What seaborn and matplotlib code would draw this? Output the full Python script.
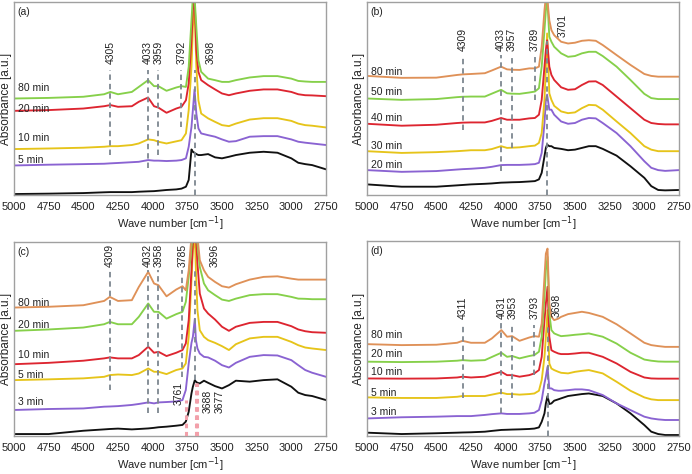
import numpy as np
import pandas as pd
import matplotlib
matplotlib.use('Agg')
import matplotlib.pyplot as plt
import seaborn as sns

sns.set_theme(style='white')
plt.rcParams['font.family'] = ['Liberation Sans', 'DejaVu Sans']
plt.rcParams['font.size'] = 8

# ── Colours ───────────────────────────────────────────────────────────────────

c_black = '#111111'
c_purple = '#8a63d2'
c_yellow = '#e6c41a'
c_red = '#dd2530'
c_green = '#86d04a'
c_orange = '#df9158'
c_dash = '#7d8790'
c_pink = '#f2a0aa'
c_text = '#222222'

# ── Panel (a) ─────────────────────────────────────────────────────────────────

wn_a = [5000, 4750, 4500, 4350, 4305, 4250, 4150, 4100, 4033, 3990, 3959, 3900, 3830, 3792,
        3760, 3740, 3720, 3710, 3698, 3685, 3670, 3650, 3600, 3550, 3500, 3450, 3400, 3300,
        3200, 3100, 3000, 2950, 2900, 2850, 2750]
a_base = [0.5, 0.7, 1.0, 1.4, 1.5, 1.5, 1.5, 1.7, 1.9, 2.0, 2.2, 2.6, 2.9, 3.3,
          4.3, 7.8, 23.6, 22.4, 21.9, 21.2, 20.7, 20.7, 21.2, 19.5, 19.0, 19.8, 20.7, 21.9,
          22.4, 21.9, 19.0, 16.7, 16.0, 15.5, 13.3]
a_5 = [15.3, 15.7, 16.0, 16.2, 16.4, 16.6, 17.0, 17.2, 18.1, 17.8, 17.8, 17.6, 17.8, 18.1,
       19.0, 25.0, 35.3, 44.0, 54.7, 42.2, 34.5, 31.9, 31.0, 30.2, 28.8, 27.6, 27.9, 30.2,
       30.5, 30.5, 28.8, 27.6, 27.1, 26.7, 25.9]
a_10 = [23.8, 24.1, 24.5, 25.0, 25.3, 25.3, 25.9, 26.7, 28.8, 28.4, 27.6, 26.7, 27.8, 28.4,
        31.9, 44.0, 66.4, 87.0, 98.0, 66.4, 49.0, 42.2, 39.7, 37.9, 36.2, 35.7, 37.0, 39.1,
        39.8, 39.8, 38.4, 37.0, 36.2, 35.9, 35.0]
a_20 = [43.6, 44.0, 44.8, 46.0, 46.6, 45.7, 46.0, 48.3, 50.5, 46.0, 45.3, 42.6, 44.8, 45.7,
        49.1, 57.8, 80.2, 95.7, 103.0, 75.0, 63.8, 59.5, 56.9, 54.7, 52.6, 51.7, 52.6, 54.0,
        54.7, 54.7, 53.4, 52.2, 51.7, 51.6, 51.2]
a_80 = [50.0, 50.3, 50.9, 52.2, 53.4, 52.2, 53.4, 56.0, 59.5, 56.4, 56.4, 54.0, 55.7, 56.4,
        56.0, 66.4, 90.5, 103.0, 103.0, 87.0, 69.8, 63.8, 60.3, 59.5, 58.6, 58.6, 59.5, 60.9,
        61.6, 61.6, 60.3, 59.1, 58.8, 58.6, 58.6]
times_a = ['0', '5 min', '10 min', '20 min', '80 min']
label_y_a = [None, 18.1, 29.3, 44.8, 55.2]
peaks_a = [4305, 4033, 3959, 3792, 3698]
peak_lo_a = [20.7, 13.8, 20.7, 35.3, 0.0]
peak_hi_a = [64.7, 64.7, 64.7, 64.7, 64.7]
peak_tx_a = [4305, 4033, 3959, 3792, 3585]
peak_ty_a = [68.0, 68.0, 68.0, 68.0, 68.0]

# ── Panel (b) ─────────────────────────────────────────────────────────────────

wn_b = [5000, 4750, 4500, 4350, 4309, 4250, 4150, 4100, 4033, 3990, 3957, 3900, 3830, 3789,
        3760, 3740, 3720, 3710, 3701, 3685, 3670, 3650, 3600, 3550, 3500, 3450, 3400, 3350,
        3300, 3200, 3100, 3000, 2950, 2900, 2850, 2750]
b_base = [5.5, 4.3, 4.3, 5.0, 5.2, 5.5, 5.8, 6.0, 6.4, 6.5, 6.6, 6.7, 7.0, 7.2,
          8.1, 11.5, 20.1, 24.4, 26.1, 25.3, 25.3, 24.4, 23.9, 23.2, 23.5, 24.4, 25.3, 25.3,
          23.9, 20.4, 14.9, 8.9, 4.6, 2.6, 2.4, 2.6]
b_20 = [12.9, 12.0, 12.4, 13.2, 13.4, 13.6, 14.1, 14.6, 15.5, 15.6, 15.6, 15.6, 15.8, 16.0,
        16.7, 21.8, 37.3, 49.3, 52.0, 44.2, 44.2, 41.6, 38.1, 36.9, 37.3, 39.0, 39.9, 39.7,
        37.3, 32.1, 25.3, 17.5, 14.1, 12.9, 12.5, 12.9]
b_30 = [22.7, 21.8, 22.2, 22.7, 22.9, 23.2, 23.2, 23.8, 25.3, 24.4, 24.5, 24.7, 25.3, 25.6,
        27.0, 32.1, 49.3, 66.5, 83.7, 52.7, 49.3, 46.2, 43.3, 42.4, 42.8, 45.0, 46.7, 46.5,
        44.2, 38.1, 32.1, 25.3, 23.5, 22.7, 22.7, 22.7]
b_40 = [36.9, 35.9, 36.4, 37.3, 37.5, 37.6, 37.6, 38.4, 39.9, 39.0, 39.0, 39.0, 39.7, 39.9,
        41.6, 49.3, 66.5, 75.1, 80.2, 66.5, 62.2, 59.6, 55.8, 54.5, 54.8, 57.0, 58.8, 58.9,
        57.0, 51.0, 45.0, 39.0, 37.3, 36.8, 36.6, 36.6]
b_50 = [50.0, 49.3, 49.7, 50.7, 50.9, 51.0, 51.0, 52.5, 54.5, 52.7, 52.5, 52.4, 53.1, 53.6,
        55.3, 66.5, 85.4, 95.7, 103.0, 82.0, 79.4, 76.8, 73.4, 71.6, 72.0, 73.4, 74.2, 74.2,
        72.0, 66.5, 59.6, 52.4, 50.2, 49.7, 49.7, 49.7]
b_80 = [61.7, 60.7, 60.8, 62.2, 62.5, 62.7, 63.1, 64.5, 66.5, 65.1, 64.9, 64.8, 65.6, 65.6,
        66.5, 76.8, 95.7, 103.0, 103.0, 90.5, 85.4, 82.8, 79.4, 78.5, 78.9, 79.9, 80.2, 79.9,
        77.7, 72.5, 67.4, 62.7, 61.7, 61.3, 61.3, 61.3]
times_b = ['0', '20 min', '30 min', '40 min', '50 min', '80 min']
label_y_b = [None, 15.3, 25.6, 39.9, 53.3, 63.9]
peaks_b = [4309, 4033, 3957, 3789, 3701]
peak_lo_b = [33.8, 12.4, 24.4, 49.3, 0.0]
peak_hi_b = [71.6, 72.5, 72.5, 71.3, 80.0]
peak_tx_b = [4309, 4033, 3957, 3789, 3590]
peak_ty_b = [74.7, 74.7, 74.7, 74.7, 82.0]

# ── Panel (c) ─────────────────────────────────────────────────────────────────

wn_c = [5000, 4750, 4500, 4350, 4309, 4250, 4150, 4100, 4032, 3990, 3958, 3900, 3830, 3785,
        3761, 3740, 3720, 3710, 3696, 3688, 3677, 3660, 3630, 3600, 3550, 3500, 3450, 3400,
        3300, 3200, 3100, 3000, 2950, 2900, 2850, 2750]
c_base = [1.0, 1.0, 2.7, 3.4, 3.6, 3.8, 3.4, 3.6, 3.9, 4.2, 4.5, 4.8, 5.3, 5.7,
          7.4, 12.5, 22.0, 25.4, 28.8, 28.0, 27.4, 27.1, 28.5, 27.4, 25.7, 24.5, 26.2, 28.5,
          28.0, 28.8, 29.2, 25.4, 22.3, 21.1, 20.6, 18.5]
c_3 = [13.4, 13.9, 14.2, 15.1, 15.2, 15.4, 16.0, 16.5, 17.3, 16.8, 17.3, 17.5, 17.8, 18.5,
       23.7, 37.4, 48.0, 51.1, 60.4, 49.4, 45.1, 42.5, 40.8, 40.5, 38.8, 36.5, 35.3, 37.7,
       40.8, 41.7, 41.5, 39.1, 36.5, 34.0, 32.6, 30.5]
c_5 = [28.8, 29.2, 29.7, 30.5, 31.4, 31.7, 31.4, 32.2, 34.8, 33.1, 33.1, 31.9, 34.0, 34.8,
       37.4, 51.1, 80.3, 95.7, 103.0, 85.4, 64.8, 54.5, 51.1, 49.4, 48.0, 46.3, 44.3, 47.3,
       50.3, 51.1, 51.1, 48.5, 46.8, 45.6, 45.1, 44.3]
c_10 = [37.0, 37.7, 38.8, 40.0, 40.5, 40.0, 40.0, 41.7, 46.0, 42.9, 43.4, 41.2, 42.9, 44.3,
        47.7, 59.7, 85.4, 99.0, 103.0, 103.0, 88.9, 73.4, 65.7, 63.1, 60.0, 56.3, 54.2, 56.3,
        58.3, 58.8, 58.8, 56.6, 54.9, 54.0, 53.5, 53.2]
c_20 = [54.2, 54.9, 55.9, 57.6, 58.8, 57.6, 57.6, 61.4, 68.3, 64.0, 64.0, 60.5, 62.8, 64.0,
        69.1, 82.0, 97.4, 103.0, 103.0, 103.0, 99.0, 87.1, 78.6, 75.1, 72.6, 70.3, 69.6, 70.8,
        72.6, 73.1, 73.1, 71.7, 70.8, 70.7, 70.5, 70.5]
c_80 = [66.2, 66.6, 67.4, 69.6, 71.7, 69.6, 70.0, 76.8, 84.6, 78.6, 77.7, 72.0, 75.5, 77.2,
        75.1, 85.4, 103.0, 103.0, 103.0, 103.0, 103.0, 90.6, 85.4, 82.0, 79.4, 77.2, 76.5, 78.2,
        80.6, 82.0, 82.3, 81.1, 80.6, 80.6, 80.6, 80.6]
times_c = ['0', '3 min', '5 min', '10 min', '20 min', '80 min']
label_y_c = [None, 17.7, 31.4, 41.7, 57.1, 68.3]
peaks_c = [4309, 4032, 3958, 3785, 3696]
peak_lo_c = [23.7, 11.7, 11.7, 30.5, 28.8]
peak_hi_c = [85.4, 85.4, 85.4, 85.4, 85.4]
peak_tx_c = [4309, 4032, 3958, 3785, 3550]
peak_ty_c = [87.1, 87.1, 87.1, 87.1, 87.1]
pink_c = [3761, 3688, 3677]
pink_hi_c = [18.5, 27.1, 27.1]
pink_tx_c = [3810, 3606, 3519]
pink_ty_c = [28.0, 23.7, 23.7]

# ── Panel (d) ─────────────────────────────────────────────────────────────────

wn_d = [5000, 4750, 4500, 4350, 4311, 4250, 4150, 4100, 4031, 3990, 3953, 3900, 3830, 3793,
        3760, 3740, 3720, 3710, 3698, 3685, 3670, 3650, 3620, 3600, 3550, 3500, 3450, 3400,
        3300, 3200, 3100, 3000, 2950, 2900, 2850, 2750]
d_base = [1.7, 1.0, 1.4, 1.7, 1.8, 1.9, 2.2, 2.6, 3.1, 3.2, 3.3, 3.4, 3.6, 3.8,
          4.4, 7.3, 11.6, 16.7, 20.5, 16.4, 16.7, 18.1, 18.8, 19.3, 20.5, 21.0, 21.5, 21.8,
          20.5, 16.7, 11.6, 5.6, 2.2, 1.0, 0.5, 0.5]
d_3 = [9.0, 9.6, 9.9, 10.2, 10.2, 10.2, 10.8, 11.2, 11.6, 11.3, 11.3, 11.3, 11.6, 11.9,
       13.3, 18.4, 27.0, 30.4, 35.5, 24.4, 24.4, 23.5, 23.2, 23.2, 23.5, 23.9, 23.9, 23.5,
       21.0, 16.7, 13.3, 9.9, 9.0, 8.5, 8.2, 8.2]
d_5 = [19.8, 19.5, 19.5, 20.1, 20.5, 20.5, 20.5, 21.2, 22.2, 21.5, 21.5, 21.2, 21.5, 21.8,
       23.2, 28.7, 40.6, 50.9, 64.5, 37.2, 34.6, 33.8, 32.9, 32.4, 32.1, 32.9, 33.4, 33.8,
       32.1, 27.8, 23.2, 19.8, 18.8, 18.4, 18.4, 18.4]
d_10 = [29.5, 29.4, 29.5, 30.0, 30.4, 30.0, 30.4, 31.5, 32.9, 31.2, 31.2, 30.4, 31.2, 32.1,
        33.8, 40.6, 59.4, 67.9, 76.5, 50.9, 44.0, 43.2, 42.3, 42.0, 42.0, 42.3, 42.7, 42.7,
        40.6, 37.2, 32.9, 30.0, 29.5, 29.4, 29.4, 29.4]
d_20 = [38.1, 37.9, 38.1, 38.6, 38.9, 38.6, 38.9, 40.5, 42.7, 40.6, 41.0, 39.8, 41.0, 41.5,
        43.2, 50.9, 71.3, 85.0, 91.8, 62.8, 54.3, 52.6, 51.7, 51.2, 51.5, 51.9, 52.2, 52.6,
        50.9, 47.4, 42.7, 39.2, 38.6, 38.2, 38.1, 38.1]
d_80 = [47.1, 46.6, 46.8, 47.8, 48.8, 47.8, 47.8, 50.0, 54.3, 50.9, 51.2, 48.8, 50.5, 51.2,
        50.9, 57.7, 81.6, 93.5, 96.1, 67.9, 61.1, 59.4, 60.2, 61.1, 62.5, 63.1, 63.7, 63.1,
        61.1, 57.3, 52.6, 47.8, 46.6, 46.1, 45.7, 45.7]
times_d = ['0', '3 min', '5 min', '10 min', '20 min', '80 min']
label_y_d = [None, 12.1, 22.2, 32.9, 42.0, 51.7]
peaks_d = [4311, 4031, 3953, 3793, 3698]
peak_lo_d = [19.3, 11.6, 19.3, 31.2, 0.0]
peak_hi_d = [56.8, 58.5, 56.8, 56.8, 56.8]
peak_tx_d = [4311, 4031, 3953, 3793, 3630]
peak_ty_d = [60.2, 60.2, 60.2, 60.2, 61.0]


# ── Drawing ───────────────────────────────────────────────────────────────────

def draw_panel(ax, letter, wn, curves, times, colors, label_y,
               peaks, peak_lo, peak_hi, peak_tx, peak_ty):
    rows = []
    for _t, _vals in zip(times, curves):
        for _w, _v in zip(wn, _vals):
            rows.append({'wn': _w, 'A': _v, 'time': _t})
    df = pd.DataFrame(rows)
    sns.lineplot(data=df, x='wn', y='A', hue='time', hue_order=times,
                 palette=colors, sort=False, estimator=None, lw=1.35,
                 legend=False, ax=ax)

    ax.vlines(peaks, peak_lo, peak_hi, colors=c_dash, linestyles=(0, (3, 2.2)),
              lw=1.3, zorder=5)
    for _tx, _ty, _p in zip(peak_tx, peak_ty, peaks):
        ax.text(_tx, _ty, str(_p), rotation=90, ha='center', va='bottom',
                fontsize=7.5, color=c_text)

    for _t, _ly in zip(times, label_y):
        if _ly is not None:
            ax.text(4968, _ly, _t, ha='left', va='center', fontsize=7.5, color=c_text)

    ax.text(0.012, 0.975, letter, transform=ax.transAxes, ha='left', va='top',
            fontsize=7.5, color=c_text)

    ax.set_xlim(5000, 2750)
    ax.set_ylim(0, 100)
    ax.set_xticks([5000, 4750, 4500, 4250, 4000, 3750, 3500, 3250, 3000, 2750])
    ax.set_yticks([])
    ax.tick_params(axis='x', direction='out', length=3, width=0.8, color='#999999',
                   pad=2, labelsize=8, labelcolor=c_text)
    ax.set_xlabel('Wave number [cm$^{-1}$]', fontsize=8, labelpad=2, color=c_text)
    ax.set_ylabel('Absorbance [a.u.]', fontsize=8.5, color=c_text)
    ax.yaxis.set_label_coords(-0.006, 0.5)
    for _s in ax.spines.values():
        _s.set_color('#a0a0a0')
        _s.set_linewidth(1.0)


fig = plt.figure(figsize=(6.92, 4.74), dpi=100)
ax_a = fig.add_axes([0.0202, 0.5886, 0.4509, 0.4072])
ax_b = fig.add_axes([0.5303, 0.5886, 0.4509, 0.4072])
ax_c = fig.add_axes([0.0202, 0.0802, 0.4509, 0.4093])
ax_d = fig.add_axes([0.5303, 0.0802, 0.4509, 0.4114])

draw_panel(ax_a, '(a)', wn_a, [a_base, a_5, a_10, a_20, a_80], times_a,
           [c_black, c_purple, c_yellow, c_red, c_green], label_y_a,
           peaks_a, peak_lo_a, peak_hi_a, peak_tx_a, peak_ty_a)
draw_panel(ax_b, '(b)', wn_b, [b_base, b_20, b_30, b_40, b_50, b_80], times_b,
           [c_black, c_purple, c_yellow, c_red, c_green, c_orange], label_y_b,
           peaks_b, peak_lo_b, peak_hi_b, peak_tx_b, peak_ty_b)
draw_panel(ax_c, '(c)', wn_c, [c_base, c_3, c_5, c_10, c_20, c_80], times_c,
           [c_black, c_purple, c_yellow, c_red, c_green, c_orange], label_y_c,
           peaks_c, peak_lo_c, peak_hi_c, peak_tx_c, peak_ty_c)
draw_panel(ax_d, '(d)', wn_d, [d_base, d_3, d_5, d_10, d_20, d_80], times_d,
           [c_black, c_purple, c_yellow, c_red, c_green, c_orange], label_y_d,
           peaks_d, peak_lo_d, peak_hi_d, peak_tx_d, peak_ty_d)

# extra pink markers in (c)
ax_c.vlines(pink_c, 0, pink_hi_c, colors=c_pink, linestyles=(0, (1.5, 1.2)), lw=2.2, zorder=6)
for _tx, _ty, _p in zip(pink_tx_c, pink_ty_c, pink_c):
    ax_c.text(_tx, _ty, str(_p), rotation=90, ha='center', va='top',
              fontsize=7.5, color=c_text)

fig.savefig('out.png', dpi=100)
